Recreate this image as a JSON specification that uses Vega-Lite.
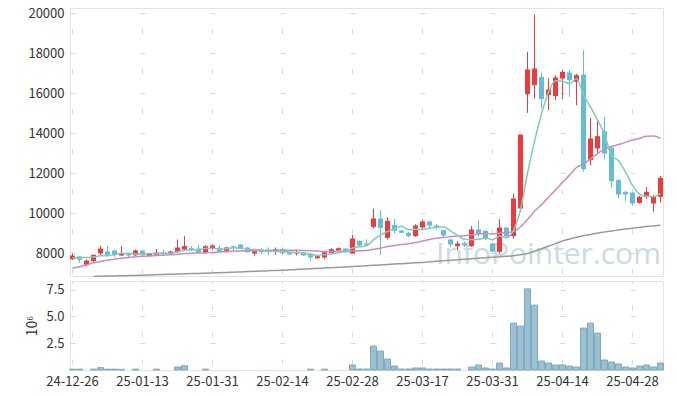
{
  "$schema": "https://vega.github.io/schema/vega-lite/v6.json",
  "background": "white",
  "padding": {"left": 25, "top": 6, "right": 10, "bottom": 5},
  "spacing": 0,
  "config": {
    "font": "Noto Sans CJK KR",
    "view": {"stroke": "#e3e3e3"},
    "axis": {"labelFont": "Noto Sans CJK KR", "labelFontSize": 13, "labelColor": "#333333", "ticks": false, "domain": false, "gridColor": "#d9d9d9", "gridWidth": 1, "titleFont": "Noto Sans CJK KR"}
  },
  "datasets": {
    "d": [
      {"d":"24-12-26","o":7690,"h":7980,"l":7658,"c":7875,"m5":7760,"m20":7241,"m120":null,"v":0.08},
      {"d":"24-12-27","o":7825,"h":7840,"l":7524,"c":7658,"m5":7770,"m20":7308,"m120":null,"v":0.08},
      {"d":"24-12-30","o":7391,"h":7674,"l":7325,"c":7624,"m5":7775,"m20":7408,"m120":null,"v":0},
      {"d":"25-01-02","o":7591,"h":7925,"l":7575,"c":7908,"m5":7800,"m20":7508,"m120":6830,"v":0.08},
      {"d":"25-01-03","o":7975,"h":8341,"l":7875,"c":8225,"m5":7858,"m20":7575,"m120":6840,"v":0.22},
      {"d":"25-01-06","o":8075,"h":8341,"l":7808,"c":7908,"m5":7865,"m20":7641,"m120":6848,"v":0.08},
      {"d":"25-01-07","o":8125,"h":8140,"l":7808,"c":7891,"m5":7911,"m20":7691,"m120":6855,"v":0.08},
      {"d":"25-01-08","o":7875,"h":8341,"l":7841,"c":7991,"m5":7985,"m20":7741,"m120":6862,"v":0.06},
      {"d":"25-01-09","o":8008,"h":8020,"l":7775,"c":7875,"m5":7978,"m20":7775,"m120":6870,"v":0},
      {"d":"25-01-10","o":7891,"h":8175,"l":7858,"c":8125,"m5":7958,"m20":7808,"m120":6880,"v":0.08},
      {"d":"25-01-13","o":8125,"h":8158,"l":7841,"c":7891,"m5":7955,"m20":7841,"m120":6890,"v":0},
      {"d":"25-01-14","o":7841,"h":7990,"l":7825,"c":7975,"m5":7971,"m20":7858,"m120":6902,"v":0},
      {"d":"25-01-15","o":7908,"h":8208,"l":7841,"c":8025,"m5":7978,"m20":7875,"m120":6914,"v":0.08},
      {"d":"25-01-16","o":8041,"h":8175,"l":7875,"c":7975,"m5":7998,"m20":7891,"m120":6926,"v":0},
      {"d":"25-01-17","o":7941,"h":8108,"l":7908,"c":8075,"m5":7988,"m20":7908,"m120":6938,"v":0},
      {"d":"25-01-20","o":8041,"h":8675,"l":8008,"c":8275,"m5":8065,"m20":7941,"m120":6950,"v":0.28},
      {"d":"25-01-21","o":8175,"h":8841,"l":8108,"c":8341,"m5":8138,"m20":7975,"m120":6960,"v":0.40},
      {"d":"25-01-22","o":8241,"h":8341,"l":8108,"c":8141,"m5":8161,"m20":7991,"m120":6970,"v":0},
      {"d":"25-01-23","o":8225,"h":8408,"l":7975,"c":8008,"m5":8168,"m20":8000,"m120":6980,"v":0},
      {"d":"25-01-24","o":8008,"h":8391,"l":7975,"c":8341,"m5":8221,"m20":8006,"m120":6990,"v":0.08},
      {"d":"25-01-31","o":8241,"h":8441,"l":8141,"c":8375,"m5":8241,"m20":8031,"m120":7000,"v":0},
      {"d":"25-02-03","o":8258,"h":8375,"l":8008,"c":8058,"m5":8185,"m20":8051,"m120":7014,"v":0},
      {"d":"25-02-04","o":8041,"h":8300,"l":8020,"c":8275,"m5":8211,"m20":8084,"m120":7028,"v":0},
      {"d":"25-02-05","o":8341,"h":8360,"l":8141,"c":8275,"m5":8265,"m20":8102,"m120":7042,"v":0},
      {"d":"25-02-06","o":8425,"h":8440,"l":8200,"c":8208,"m5":8238,"m20":8101,"m120":7056,"v":0},
      {"d":"25-02-07","o":8275,"h":8290,"l":8020,"c":8041,"m5":8171,"m20":8108,"m120":7070,"v":0},
      {"d":"25-02-10","o":7975,"h":8141,"l":7875,"c":8091,"m5":8178,"m20":8118,"m120":7084,"v":0},
      {"d":"25-02-11","o":8175,"h":8241,"l":7941,"c":8041,"m5":8131,"m20":8121,"m120":7098,"v":0},
      {"d":"25-02-12","o":8175,"h":8275,"l":7875,"c":8041,"m5":8084,"m20":8129,"m120":7112,"v":0},
      {"d":"25-02-13","o":8075,"h":8275,"l":7908,"c":8191,"m5":8081,"m20":8132,"m120":7126,"v":0},
      {"d":"25-02-14","o":8208,"h":8275,"l":7908,"c":8008,"m5":8074,"m20":8138,"m120":7140,"v":0},
      {"d":"25-02-17","o":8058,"h":8075,"l":7891,"c":7925,"m5":8041,"m20":8136,"m120":7158,"v":0},
      {"d":"25-02-18","o":7975,"h":8175,"l":7875,"c":8041,"m5":8041,"m20":8136,"m120":7176,"v":0},
      {"d":"25-02-19","o":8041,"h":8060,"l":7840,"c":7875,"m5":8008,"m20":8131,"m120":7194,"v":0},
      {"d":"25-02-20","o":7975,"h":8008,"l":7608,"c":7775,"m5":7925,"m20":8116,"m120":7212,"v":0.08},
      {"d":"25-02-21","o":7741,"h":7860,"l":7720,"c":7841,"m5":7891,"m20":8095,"m120":7230,"v":0},
      {"d":"25-02-24","o":7775,"h":8108,"l":7708,"c":8041,"m5":7915,"m20":8080,"m120":7248,"v":0.08},
      {"d":"25-02-25","o":8008,"h":8241,"l":7975,"c":8191,"m5":7945,"m20":8082,"m120":7266,"v":0},
      {"d":"25-02-26","o":8125,"h":8275,"l":8100,"c":8241,"m5":8018,"m20":8094,"m120":7284,"v":0},
      {"d":"25-02-27","o":8225,"h":8240,"l":8020,"c":8041,"m5":8071,"m20":8079,"m120":7302,"v":0},
      {"d":"25-02-28","o":7975,"h":8908,"l":7975,"c":8725,"m5":8248,"m20":8096,"m120":7320,"v":0.47},
      {"d":"25-03-04","o":8608,"h":8625,"l":8350,"c":8375,"m5":8315,"m20":8112,"m120":7341,"v":0.09},
      {"d":"25-03-05","o":8475,"h":8675,"l":8341,"c":8408,"m5":8358,"m20":8119,"m120":7362,"v":0.09},
      {"d":"25-03-06","o":9308,"h":10225,"l":9225,"c":9725,"m5":8655,"m20":8191,"m120":7383,"v":2.23},
      {"d":"25-03-07","o":9725,"h":10141,"l":7891,"c":9241,"m5":8895,"m20":8243,"m120":7404,"v":1.77},
      {"d":"25-03-10","o":8758,"h":9775,"l":8675,"c":9608,"m5":9071,"m20":8321,"m120":7425,"v":1.02},
      {"d":"25-03-11","o":9408,"h":9708,"l":8975,"c":9108,"m5":9218,"m20":8372,"m120":7446,"v":0.37},
      {"d":"25-03-12","o":9125,"h":9140,"l":8990,"c":9008,"m5":9338,"m20":8420,"m120":7467,"v":0.09},
      {"d":"25-03-13","o":9008,"h":9058,"l":8775,"c":8841,"m5":9161,"m20":8460,"m120":7488,"v":0.09},
      {"d":"25-03-14","o":8841,"h":9441,"l":8808,"c":9375,"m5":9188,"m20":8520,"m120":7509,"v":0.19},
      {"d":"25-03-17","o":9275,"h":9675,"l":9175,"c":9575,"m5":9181,"m20":8598,"m120":7530,"v":0.19},
      {"d":"25-03-18","o":9575,"h":9608,"l":9241,"c":9375,"m5":9235,"m20":8671,"m120":7556,"v":0.09},
      {"d":"25-03-19","o":9375,"h":9441,"l":9175,"c":9275,"m5":9288,"m20":8732,"m120":7582,"v":0.09},
      {"d":"25-03-20","o":9141,"h":9175,"l":8808,"c":8875,"m5":9295,"m20":8782,"m120":7608,"v":0.09},
      {"d":"25-03-21","o":8675,"h":8690,"l":8308,"c":8425,"m5":9105,"m20":8815,"m120":7634,"v":0.09},
      {"d":"25-03-24","o":8341,"h":8591,"l":8175,"c":8475,"m5":8885,"m20":8846,"m120":7660,"v":0.09},
      {"d":"25-03-25","o":8491,"h":8575,"l":8308,"c":8375,"m5":8685,"m20":8863,"m120":7686,"v":0},
      {"d":"25-03-26","o":8341,"h":9341,"l":8308,"c":9175,"m5":8665,"m20":8912,"m120":7712,"v":0.28},
      {"d":"25-03-27","o":9175,"h":9641,"l":8841,"c":8975,"m5":8685,"m20":8949,"m120":7738,"v":0.47},
      {"d":"25-03-28","o":9108,"h":9141,"l":8641,"c":8725,"m5":8745,"m20":8983,"m120":7764,"v":0.19},
      {"d":"25-03-31","o":8475,"h":8490,"l":8040,"c":8070,"m5":8666,"m20":8951,"m120":7790,"v":0.09},
      {"d":"25-04-01","o":8058,"h":9691,"l":7975,"c":9275,"m5":8846,"m20":8996,"m120":7810,"v":0.65},
      {"d":"25-04-02","o":9275,"h":9290,"l":8725,"c":8841,"m5":8779,"m20":9018,"m120":7832,"v":0.19},
      {"d":"25-04-03","o":8841,"h":10975,"l":8725,"c":10725,"m5":9129,"m20":9068,"m120":7860,"v":4.37},
      {"d":"25-04-04","o":10225,"h":13925,"l":10058,"c":13925,"m5":10169,"m20":9302,"m120":7910,"v":4.09},
      {"d":"25-04-07","o":15942,"h":18058,"l":15008,"c":17175,"m5":11988,"m20":9680,"m120":7975,"v":7.57},
      {"d":"25-04-08","o":16392,"h":19925,"l":15725,"c":17225,"m5":13578,"m20":10086,"m120":8090,"v":6.05},
      {"d":"25-04-09","o":16808,"h":17025,"l":15225,"c":15692,"m5":14948,"m20":10420,"m120":8210,"v":0.84},
      {"d":"25-04-10","o":15892,"h":16725,"l":15142,"c":16175,"m5":16038,"m20":10787,"m120":8340,"v":0.65},
      {"d":"25-04-11","o":15842,"h":16892,"l":15642,"c":16775,"m5":16608,"m20":11157,"m120":8470,"v":0.47},
      {"d":"25-04-14","o":16725,"h":17142,"l":15692,"c":17058,"m5":16585,"m20":11531,"m120":8600,"v":0.47},
      {"d":"25-04-15","o":17025,"h":17142,"l":15808,"c":16642,"m5":16468,"m20":11894,"m120":8700,"v":0.37},
      {"d":"25-04-16","o":16558,"h":16958,"l":15392,"c":16892,"m5":16708,"m20":12275,"m120":8790,"v":0.28},
      {"d":"25-04-17","o":16925,"h":18142,"l":12058,"c":12192,"m5":15912,"m20":12441,"m120":8860,"v":3.91},
      {"d":"25-04-18","o":12642,"h":14758,"l":12392,"c":13725,"m5":15302,"m20":12706,"m120":8930,"v":4.37},
      {"d":"25-04-21","o":13225,"h":14692,"l":12975,"c":13842,"m5":14659,"m20":12974,"m120":8990,"v":3.44},
      {"d":"25-04-22","o":14092,"h":14808,"l":12692,"c":12975,"m5":13925,"m20":13204,"m120":9050,"v":0.93},
      {"d":"25-04-23","o":13258,"h":13300,"l":11258,"c":11592,"m5":12865,"m20":13325,"m120":9100,"v":0.74},
      {"d":"25-04-24","o":11642,"h":11700,"l":10725,"c":10925,"m5":12612,"m20":13423,"m120":9150,"v":0.56},
      {"d":"25-04-25","o":11058,"h":11100,"l":10592,"c":10925,"m5":12052,"m20":13533,"m120":9195,"v":0.28},
      {"d":"25-04-28","o":11025,"h":11050,"l":10358,"c":10475,"m5":11378,"m20":13653,"m120":9240,"v":0.19},
      {"d":"25-04-29","o":10508,"h":10860,"l":10475,"c":10808,"m5":10945,"m20":13729,"m120":9280,"v":0.37},
      {"d":"25-04-30","o":10792,"h":11292,"l":10700,"c":11058,"m5":10838,"m20":13840,"m120":9320,"v":0.47},
      {"d":"25-05-02","o":10475,"h":10900,"l":10058,"c":10808,"m5":10815,"m20":13844,"m120":9355,"v":0.28},
      {"d":"25-05-07","o":10808,"h":11858,"l":10525,"c":11758,"m5":10981,"m20":13736,"m120":9390,"v":0.65}
    ]
  },
  "vconcat": [
    {
      "width": 593,
      "height": 268,
      "data": {"name": "d"},
      "encoding": {
        "x": {
          "field": "d", "type": "ordinal", "sort": "ascending",
          "scale": {"paddingInner": 0.2857, "paddingOuter": 0},
          "axis": {"labels": false, "title": null, "labelPadding": 0, "minExtent": 0, "maxExtent": 0, "offset": 0, "grid": true, "gridDash": [5, 35], "gridDashOffset": 19.5,
                   "values": ["24-12-26","25-01-13","25-01-31","25-02-14","25-02-28","25-03-17","25-03-31","25-04-14","25-04-28"]}
        }
      },
      "layer": [
        {
          "transform": [{"filter": "datum.d == '25-04-10'"}],
          "mark": {"type": "text", "font": "Open Sans", "fontSize": 30, "color": "#b9cfdc", "opacity": 0.75, "align": "center", "baseline": "middle"},
          "encoding": {
            "y": {"datum": 7925, "type": "quantitative"},
            "text": {"value": "InfoPointer.com"}
          }
        },
        {
          "mark": {"type": "rule", "strokeWidth": 1},
          "encoding": {
            "y": {"field": "l", "type": "quantitative", "scale": {"domain": [6850, 20250], "nice": false, "zero": false},
                  "axis": {"title": null, "values": [8000, 10000, 12000, 14000, 16000, 18000, 20000], "format": "d", "labelPadding": 6, "grid": true, "gridDash": [5, 65], "gridDashOffset": 0}},
            "y2": {"field": "h"},
            "color": {"condition": {"test": "datum.c >= datum.o", "value": "#ee3a3a"}, "value": "#62bdd5"}
          }
        },
        {
          "mark": {"type": "bar"},
          "encoding": {
            "y": {"field": "o", "type": "quantitative"},
            "y2": {"field": "c"},
            "color": {"condition": {"test": "datum.c >= datum.o", "value": "#ee3a3a"}, "value": "#62bdd5"}
          }
        },
        {
          "mark": {"type": "line", "color": "#9a9a9a", "strokeWidth": 1.5, "interpolate": "monotone"},
          "encoding": {"y": {"field": "m120", "type": "quantitative"}}
        },
        {
          "mark": {"type": "line", "color": "#c98bc2", "strokeWidth": 1.5, "interpolate": "monotone"},
          "encoding": {"y": {"field": "m20", "type": "quantitative"}}
        },
        {
          "mark": {"type": "line", "color": "#80cbbd", "strokeWidth": 1.5, "interpolate": "monotone"},
          "encoding": {"y": {"field": "m5", "type": "quantitative"}}
        }
      ]
    },
    {
      "width": 593,
      "height": 89,
      "data": {"name": "d"},
      "mark": {"type": "bar", "width": 6, "fill": "#9bc0d2", "stroke": "#80a9bf"},
      "encoding": {
        "x": {
          "field": "d", "type": "ordinal", "sort": "ascending",
          "scale": {"paddingInner": 0.2857, "paddingOuter": 0},
          "axis": {"title": null, "labelAngle": 0, "labelPadding": 5, "grid": true, "gridDash": [5, 21.81], "gridDashOffset": 2.5,
                   "values": ["24-12-26","25-01-13","25-01-31","25-02-14","25-02-28","25-03-17","25-03-31","25-04-14","25-04-28"]}
        },
        "y": {
          "field": "v", "type": "quantitative", "scale": {"domain": [0, 8.3], "nice": false},
          "axis": {"title": "10⁶", "titleFontSize": 14, "titleFontWeight": "normal", "titleColor": "#333333", "titlePadding": 6, "values": [2.5, 5, 7.5], "format": ".1f", "labelPadding": 6, "grid": true, "gridDash": [5, 65], "gridDashOffset": 0}
        },
        "strokeWidth": {"condition": {"test": "datum.v > 0", "value": 1}, "value": 0}
      }
    }
  ]
}
